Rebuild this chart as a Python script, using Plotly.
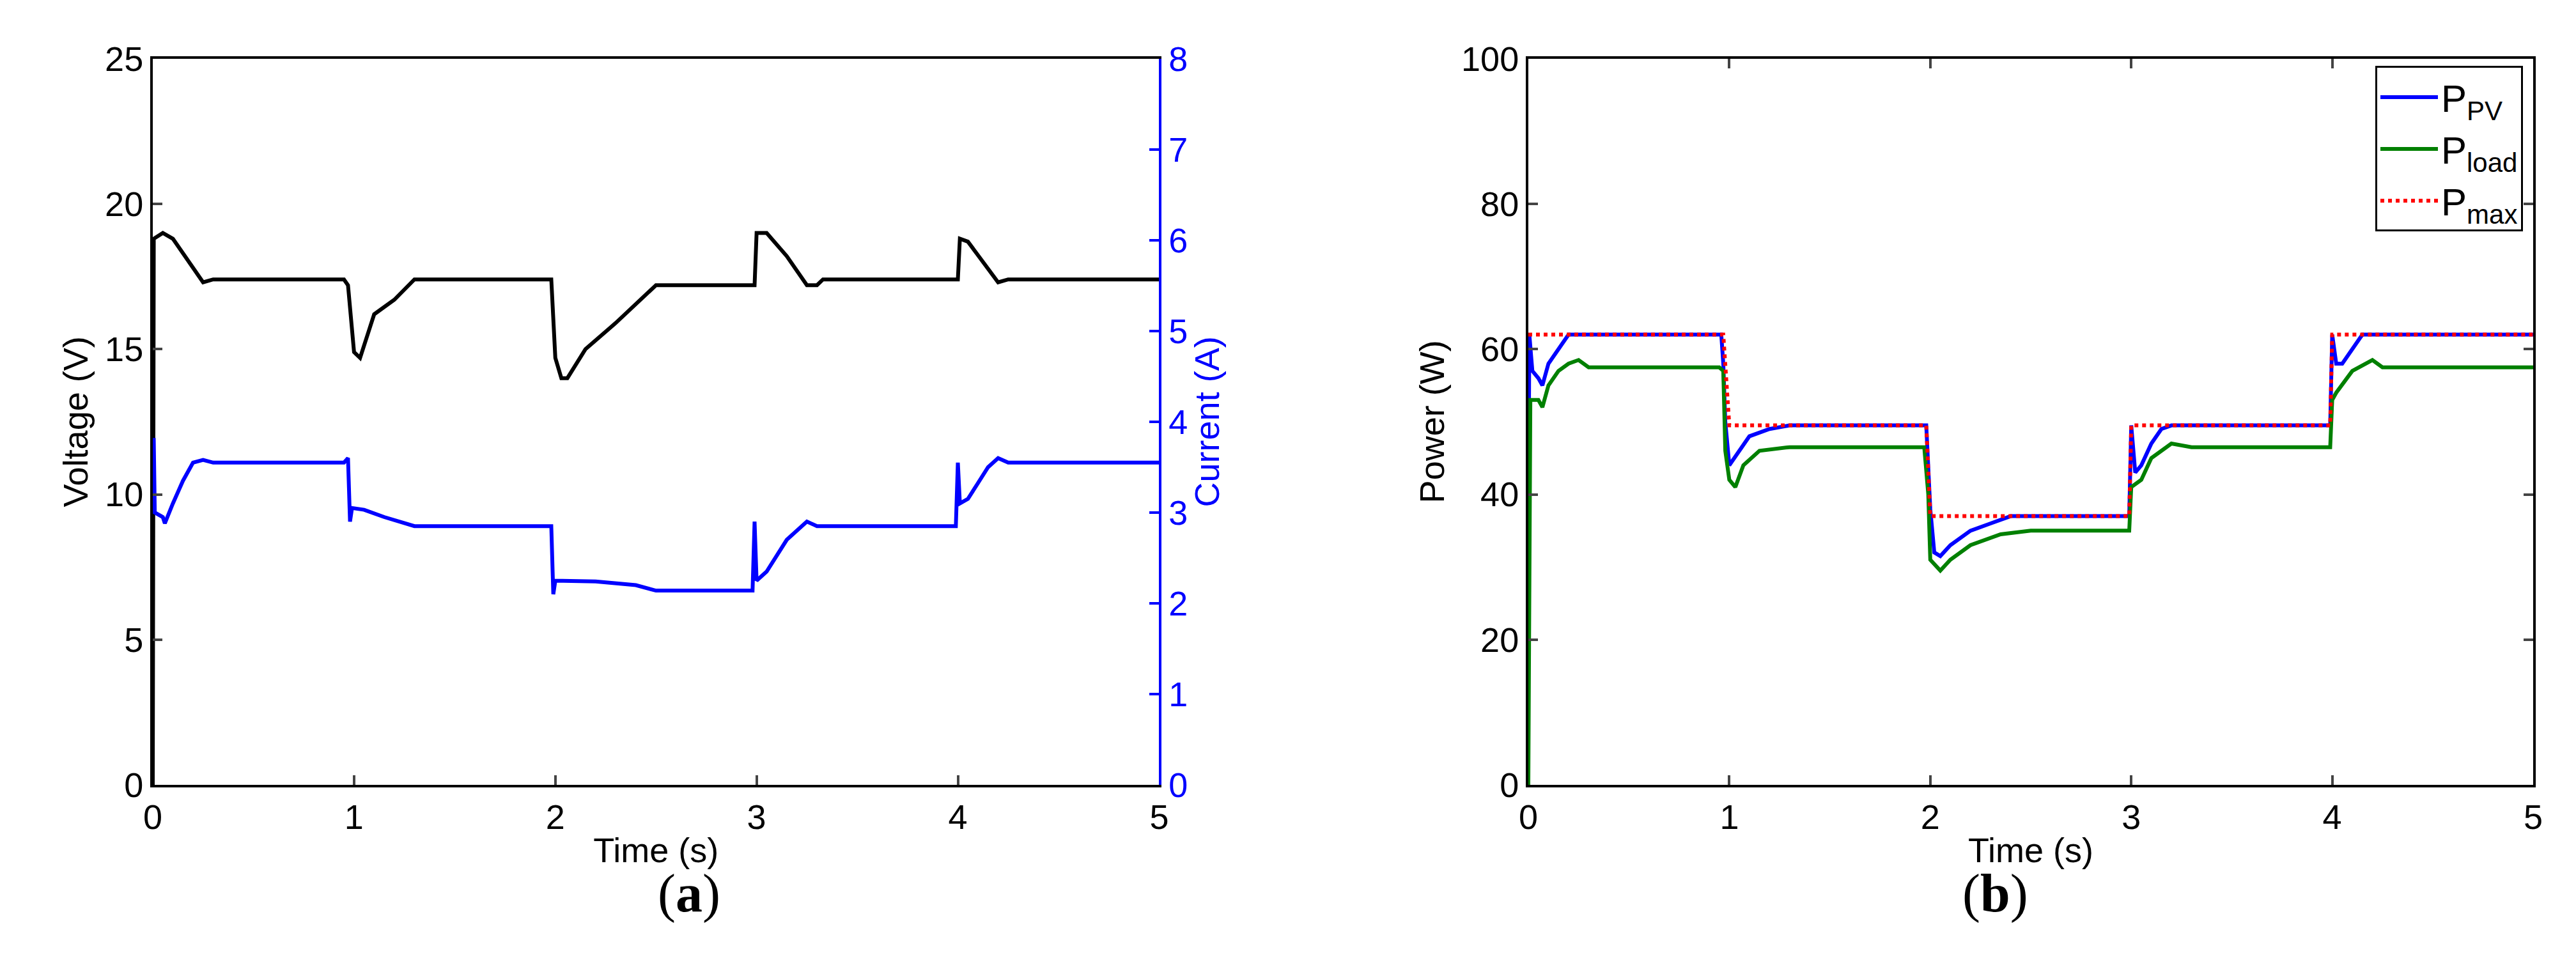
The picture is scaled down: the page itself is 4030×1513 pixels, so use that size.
import plotly.graph_objects as go

# (a) voltage and current
t_v = [0, 0.005, 0.05, 0.1, 0.2, 0.25, 0.3, 0.95, 0.97, 1.0, 1.03, 1.06, 1.1, 1.2, 1.3,
       1.98, 1.99, 2.0, 2.03, 2.06, 2.15, 2.3, 2.5, 2.99, 3.0, 3.05, 3.15, 3.25, 3.3, 3.33,
       4.0, 4.01, 4.05, 4.15, 4.2, 4.25, 5]
voltage = [0, 18.8, 19.0, 18.8, 17.8, 17.3, 17.4, 17.4, 17.2, 14.9, 14.7, 15.3, 16.2, 16.7, 17.4,
           17.4, 16.2, 14.7, 14.0, 14.0, 15.0, 15.9, 17.2, 17.2, 19.0, 19.0, 18.2, 17.2, 17.2, 17.4,
           17.4, 18.8, 18.7, 17.8, 17.3, 17.4, 17.4]

t_i = [0, 0.005, 0.01, 0.05, 0.06, 0.08, 0.1, 0.15, 0.2, 0.25, 0.3, 0.95, 0.97, 0.98, 0.99,
       1.05, 1.15, 1.3, 1.98, 1.99, 2.0, 2.2, 2.4, 2.5, 2.98, 2.99, 3.0, 3.05, 3.15, 3.25, 3.3,
       3.99, 4.0, 4.01, 4.05, 4.15, 4.2, 4.25, 5]
current = [3.8, 3.8, 3.0, 2.95, 2.88, 3.0, 3.1, 3.35, 3.55, 3.58, 3.55, 3.55, 3.6, 2.9, 3.05,
           3.03, 2.95, 2.85, 2.85, 2.1, 2.25, 2.24, 2.2, 2.14, 2.14, 2.9, 2.25, 2.35, 2.7, 2.9, 2.85,
           2.85, 3.55, 3.1, 3.15, 3.5, 3.6, 3.55, 3.55]

# (b) power
t_pv = [0, 0.005, 0.02, 0.05, 0.07, 0.1, 0.15, 0.2, 0.96, 0.97, 0.98, 1.0, 1.05, 1.1, 1.2, 1.3,
        1.98, 2.0, 2.02, 2.05, 2.1, 2.2, 2.3, 2.4, 2.99, 3.0, 3.02, 3.05, 3.1, 3.15, 3.2,
        3.99, 4.0, 4.02, 4.05, 4.1, 4.15, 5]
p_pv = [35, 62, 57, 56, 55, 58, 60, 62, 62, 58, 50, 44, 46, 48, 49, 49.5,
        49.5, 38, 32, 31.5, 33, 35, 36, 37, 37, 49.5, 43, 44, 47, 49, 49.5,
        49.5, 62, 58, 58, 60, 62, 62]

t_load = [0, 0.005, 0.01, 0.05, 0.07, 0.1, 0.15, 0.2, 0.25, 0.3, 0.95, 0.97, 0.98, 1.0, 1.03,
          1.07, 1.15, 1.3, 1.97, 1.99, 2.0, 2.05, 2.1, 2.2, 2.35, 2.5, 2.99, 3.0, 3.05, 3.1,
          3.2, 3.3, 3.99, 4.0, 4.02, 4.1, 4.2, 4.25, 5]
p_load = [0, 35, 53, 53, 52, 55, 57, 58, 58.5, 57.5, 57.5, 57, 46, 42, 41,
          44, 46, 46.5, 46.5, 40, 31, 29.5, 31, 33, 34.5, 35, 35, 41, 42, 45,
          47, 46.5, 46.5, 53, 54, 57, 58.5, 57.5, 57.5]

t_max = [0, 0.97, 1.0, 1.98, 2.0, 2.99, 3.0, 3.99, 4.0, 5]
p_max = [62, 62, 49.5, 49.5, 37, 37, 49.5, 49.5, 62, 62]

FONT = "Liberation Sans"
BLUE = "#0000ff"
GREEN = "#008000"
FS = 54

fig = go.Figure()
fig.add_trace(go.Scatter(x=t_v, y=voltage, mode="lines", line=dict(color="black", width=6),
                         showlegend=False, xaxis="x", yaxis="y"))
fig.add_trace(go.Scatter(x=t_i, y=current, mode="lines", line=dict(color=BLUE, width=6),
                         showlegend=False, xaxis="x", yaxis="y2"))
fig.add_trace(go.Scatter(x=t_pv, y=p_pv, mode="lines", name="P<sub>PV</sub>",
                         line=dict(color=BLUE, width=6), xaxis="x2", yaxis="y3"))
fig.add_trace(go.Scatter(x=t_load, y=p_load, mode="lines", name="P<sub>load</sub>",
                         line=dict(color=GREEN, width=6), xaxis="x2", yaxis="y3"))
fig.add_trace(go.Scatter(x=t_max, y=p_max, mode="lines", name="P<sub>max</sub>",
                         line=dict(color="red", width=6, dash="dot"), xaxis="x2", yaxis="y3"))

tick = dict(ticks="inside", ticklen=15, tickwidth=4, showgrid=False, zeroline=False,
            showline=True, linewidth=4, tickfont=dict(size=FS, family=FONT))

fig.update_layout(
    width=4030, height=1513, margin=dict(l=0, r=0, t=0, b=0),
    paper_bgcolor="white", plot_bgcolor="white",
    font=dict(family=FONT, color="black", size=FS),
    xaxis=dict(domain=[0.054, 0.4476], range=[0, 5], dtick=1, linecolor="black",
               mirror=True, anchor="y",
               title=dict(text="Time (s)", font=dict(size=FS), standoff=5), **tick),
    yaxis=dict(domain=[0.181, 0.963], range=[0, 25], dtick=5, linecolor="black",
               anchor="x", title=dict(text="Voltage (V)", font=dict(size=FS), standoff=10), **tick),
    yaxis2=dict(overlaying="y", side="right", anchor="x", range=[0, 8], dtick=1,
                linecolor=BLUE, color=BLUE,
                title=dict(text="Current (A)", font=dict(size=FS, color=BLUE), standoff=0), **tick),
    xaxis2=dict(domain=[0.592, 0.985], range=[0, 5], dtick=1, linecolor="black",
                mirror="ticks", anchor="y3",
                title=dict(text="Time (s)", font=dict(size=FS), standoff=5), **tick),
    yaxis3=dict(domain=[0.181, 0.963], range=[0, 100], dtick=20, linecolor="black",
                mirror="ticks", anchor="x2",
                title=dict(text="Power (W)", font=dict(size=FS), standoff=10), **tick),
    legend=dict(x=0.981, y=0.955, xanchor="right", yanchor="top", bgcolor="white",
                bordercolor="black", borderwidth=3, font=dict(size=60, family=FONT),
                itemwidth=90, tracegroupgap=0),
    annotations=[
        dict(text="(<b>a</b>)", x=0.251, y=0.03, xref="paper", yref="paper", showarrow=False,
             font=dict(size=84, family="Liberation Serif")),
        dict(text="(<b>b</b>)", x=0.788, y=0.03, xref="paper", yref="paper", showarrow=False,
             font=dict(size=84, family="Liberation Serif")),
    ],
)

fig.write_html("out.html")
